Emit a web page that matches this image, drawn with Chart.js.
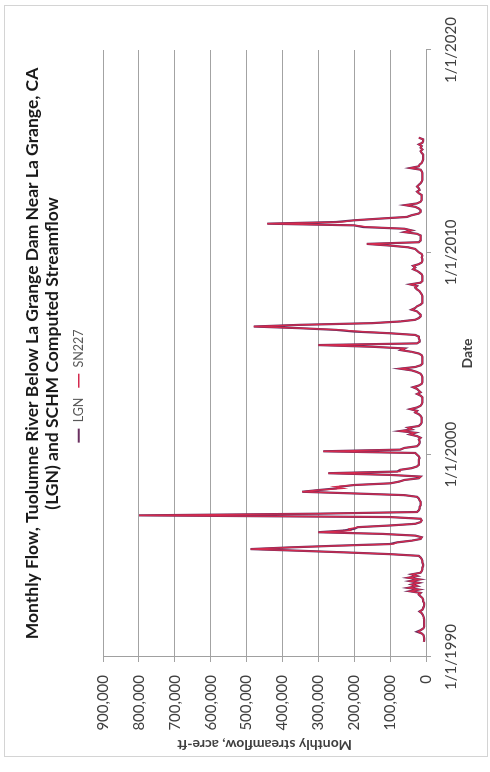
<!DOCTYPE html>
<html>
<head>
  <meta charset="utf-8">
  <title>Monthly Flow, Tuolumne River Below La Grange Dam</title>
  <script src="https://cdn.jsdelivr.net/npm/chart.js"></script>
  <style>
    body {
      margin: 0;
      background: #fff;
    }
    /* the chart is laid out landscape and then turned a quarter turn, like the scanned page */
    #page {
      position: absolute;
      left: 0;
      top: 0;
      width: 772px;
      height: 490px;
      transform-origin: 0 0;
      transform: translateY(772px) rotate(-90deg);
    }
    #frame {
      position: absolute;
      left: 15px;
      top: 4px;
      width: 752px;
      height: 484px;
      border: 1.5px solid #d4d4d4;
      box-sizing: border-box;
    }
    canvas {
      position: absolute;
      left: 0;
      top: 0;
    }
  </style>
</head>
<body>
<div id="page">
  <div id="frame"></div>
  <canvas id="flowChart" width="772" height="490"></canvas>
</div>

<script>
  const titleLines = [
    'Monthly Flow, Tuolumne River Below La Grange Dam Near La Grange, CA',
    '(LGN) and SCHM Computed Streamflow'
  ];
  const seriesNames = ['LGN', 'SN227'];

  // monthly values, water years Oct 1990 .. Sep 2015 (acre-ft)
  const lgnFlow = [
    6000, 5000, 5000, 6000, 7000, 12000, 25000, 14000, 7000, 5000, 5000, 5000,           // WY1991
    5000, 5000, 6000, 7000, 9000, 12000, 18000, 10000, 8000, 6000, 5000, 5000,           // WY1992
    8000, 8000, 10000, 15000, 20000, 15000, 45000, 20000, 50000, 25000, 40000, 20000,    // WY1993
    45000, 18000, 50000, 25000, 40000, 15000, 12000, 10000, 10000, 8000, 8000, 10000,    // WY1994
    10000, 12000, 15000, 20000, 100000, 220000, 350000, 489000, 380000, 250000, 100000, 80000, // WY1995
    40000, 15000, 12000, 30000, 120000, 300000, 230000, 200000, 190000, 100000, 30000, 15000,  // WY1996
    12000, 15000, 100000, 800000, 300000, 25000, 20000, 18000, 18000, 15000, 15000, 15000,     // WY1997
    18000, 20000, 25000, 60000, 200000, 345000, 300000, 250000, 240000, 200000, 100000, 75000, // WY1998
    60000, 20000, 15000, 100000, 272000, 80000, 72000, 40000, 25000, 20000, 20000, 20000,      // WY1999
    20000, 18000, 20000, 25000, 30000, 286000, 72000, 60000, 25000, 20000, 18000, 18000,       // WY2000
    20000, 15000, 25000, 45000, 30000, 72000, 40000, 50000, 20000, 15000, 12000, 12000,  // WY2001
    12000, 12000, 15000, 20000, 30000, 25000, 44000, 25000, 15000, 12000, 10000, 10000,  // WY2002
    10000, 10000, 15000, 25000, 15000, 20000, 25000, 36000, 20000, 12000, 10000, 10000,  // WY2003
    10000, 10000, 12000, 15000, 25000, 40000, 72000, 30000, 15000, 10000, 10000, 10000,  // WY2004
    10000, 10000, 12000, 20000, 40000, 70000, 60000, 150000, 300000, 25000, 18000, 18000,      // WY2005
    20000, 20000, 30000, 100000, 200000, 250000, 350000, 480000, 350000, 150000, 72000, 30000, // WY2006
    20000, 15000, 15000, 20000, 25000, 40000, 30000, 25000, 15000, 10000, 10000, 10000,  // WY2007
    10000, 10000, 12000, 15000, 18000, 25000, 30000, 25000, 44000, 15000, 10000, 10000,  // WY2008
    10000, 10000, 12000, 18000, 25000, 36000, 30000, 36000, 20000, 12000, 10000, 10000,  // WY2009
    12000, 10000, 12000, 20000, 25000, 30000, 50000, 100000, 165000, 20000, 15000, 15000,      // WY2010
    15000, 15000, 25000, 60000, 40000, 60000, 175000, 200000, 442000, 250000, 200000, 128000,  // WY2011
    53000, 40000, 20000, 15000, 15000, 20000, 30000, 58000, 25000, 15000, 12000, 12000,  // WY2012
    12000, 12000, 20000, 25000, 18000, 20000, 25000, 20000, 15000, 12000, 10000, 10000,  // WY2013
    10000, 10000, 10000, 12000, 15000, 44000, 20000, 18000, 12000, 10000, 8000, 8000,    // WY2014
    8000, 8000, 12000, 15000, 10000, 15000, 12000, 20000, 10000, 8000, 8000, 20000       // WY2015
  ];

  const sn227Flow = [
    6000, 5000, 5000, 6000, 7000, 12000, 22000, 14000, 7000, 5000, 5000, 5000,
    5000, 5000, 6000, 7000, 9000, 12000, 18000, 10000, 8000, 6000, 5000, 5000,
    8000, 8000, 10000, 15000, 20000, 15000, 45000, 20000, 50000, 25000, 40000, 20000,
    45000, 18000, 50000, 25000, 40000, 15000, 12000, 10000, 10000, 8000, 8000, 10000,
    10000, 12000, 15000, 20000, 100000, 220000, 350000, 489000, 380000, 240000, 90000, 80000,
    40000, 15000, 12000, 30000, 120000, 300000, 210000, 215000, 190000, 100000, 30000, 15000,
    12000, 15000, 100000, 800000, 300000, 25000, 20000, 18000, 18000, 15000, 15000, 15000,
    18000, 20000, 25000, 60000, 200000, 345000, 300000, 230000, 255000, 200000, 100000, 75000,
    60000, 20000, 15000, 100000, 272000, 72000, 72000, 40000, 25000, 20000, 20000, 20000,
    20000, 18000, 20000, 25000, 30000, 286000, 72000, 60000, 25000, 20000, 18000, 18000,
    20000, 15000, 25000, 45000, 30000, 72000, 40000, 50000, 20000, 15000, 12000, 12000,
    12000, 12000, 15000, 20000, 30000, 25000, 44000, 25000, 15000, 12000, 10000, 10000,
    10000, 10000, 15000, 25000, 15000, 20000, 25000, 36000, 20000, 12000, 10000, 10000,
    10000, 10000, 12000, 15000, 25000, 40000, 72000, 30000, 15000, 10000, 10000, 10000,
    10000, 10000, 12000, 20000, 40000, 70000, 60000, 150000, 300000, 25000, 18000, 18000,
    20000, 20000, 30000, 100000, 180000, 240000, 350000, 480000, 350000, 150000, 72000, 30000,
    20000, 15000, 15000, 20000, 25000, 40000, 30000, 25000, 15000, 10000, 10000, 10000,
    10000, 10000, 12000, 15000, 18000, 25000, 30000, 25000, 44000, 15000, 10000, 10000,
    10000, 10000, 12000, 18000, 25000, 36000, 30000, 36000, 20000, 12000, 10000, 10000,
    12000, 10000, 12000, 20000, 25000, 30000, 50000, 100000, 165000, 20000, 15000, 15000,
    15000, 15000, 25000, 60000, 40000, 60000, 160000, 200000, 442000, 235000, 200000, 128000,
    53000, 40000, 20000, 15000, 15000, 20000, 30000, 58000, 25000, 15000, 12000, 12000,
    12000, 12000, 20000, 25000, 18000, 20000, 25000, 20000, 15000, 12000, 10000, 10000,
    10000, 10000, 10000, 12000, 15000, 44000, 20000, 18000, 12000, 10000, 8000, 8000,
    8000, 8000, 12000, 15000, 10000, 15000, 12000, 20000, 10000, 8000, 8000, 20000
  ];

  // month positions as decimal years, first month Oct 1990
  const firstMonth = 1990 + 9 / 12;
  const months = [];
  for (let i = 0; i < lgnFlow.length; i++) months.push(firstMonth + i / 12);

  const dateTicks = [1990, 2000, 2010, 2020];
  const flowMax = 900000;
  const flowStep = 100000;

  const fontFamily = 'Lato, "Open Sans", sans-serif';

  function points(values) {
    return values.map((v, i) => ({ x: months[i], y: v }));
  }

  // empty axis, only used to reserve room
  function spacer(position, size) {
    return {
      type: 'linear',
      position: position,
      display: true,
      ticks: { display: false },
      grid: { display: false, drawTicks: false },
      border: { display: false },
      afterFit: s => {
        if (position === 'top' || position === 'bottom') s.height = size;
        else s.width = size;
      }
    };
  }

  new Chart(document.getElementById('flowChart').getContext('2d'), {
    type: 'line',
    data: {
      datasets: [
        {
          label: seriesNames[0],
          data: points(lgnFlow),
          borderColor: '#6a3060',
          backgroundColor: '#6a3060',
          borderWidth: 2.2,
          pointRadius: 0,
          tension: 0,
          order: 1,
          xAxisID: 'x',
          yAxisID: 'y'
        },
        {
          label: seriesNames[1],
          data: points(sn227Flow),
          borderColor: '#d42a4e',
          backgroundColor: '#d42a4e',
          borderWidth: 1.3,
          pointRadius: 0,
          tension: 0,
          order: 0,
          xAxisID: 'x',
          yAxisID: 'y'
        }
      ]
    },
    options: {
      responsive: false,
      animation: false,
      events: [],
      layout: { padding: 0 },
      plugins: {
        tooltip: { enabled: false },
        title: {
          display: true,
          text: titleLines,
          fullSize: false,
          color: '#1a1a1a',
          font: { family: fontFamily, size: 17.5, weight: 'bold', lineHeight: 1.1 },
          padding: { top: 23, bottom: 1 }
        },
        legend: {
          display: true,
          labels: {
            usePointStyle: true,
            pointStyle: 'line',
            pointStyleWidth: 14,
            padding: 10,
            color: '#595959',
            font: { family: fontFamily, size: 12.5 },
            sort: (a, b) => a.datasetIndex - b.datasetIndex
          }
        }
      },
      scales: {
        x: {
          type: 'linear',
          position: 'bottom',
          min: dateTicks[0],
          max: dateTicks[dateTicks.length - 1],
          afterBuildTicks: s => { s.ticks = dateTicks.map(v => ({ value: v })); },
          afterFit: s => { s.height = 64; },
          ticks: {
            callback: v => '1/1/' + v,
            color: '#404040',
            font: { family: fontFamily, size: 15 },
            padding: 11,
            maxRotation: 0,
            autoSkip: false
          },
          grid: { drawOnChartArea: false, tickLength: 5, color: '#a0a0a0' },
          border: { color: '#a0a0a0' },
          title: {
            display: true,
            text: 'Date',
            color: '#404040',
            font: { family: fontFamily, size: 14, weight: 'bold' },
            padding: { top: 0, bottom: 14 }
          }
        },
        y: {
          type: 'linear',
          position: 'left',
          min: 0,
          max: flowMax,
          afterFit: s => { s.width = 115; },
          ticks: {
            stepSize: flowStep,
            callback: v => v.toLocaleString('en-US'),
            color: '#404040',
            font: { family: fontFamily, size: 15 },
            padding: 13
          },
          grid: { color: '#a3a3a3', tickLength: 5 },
          border: { color: '#a0a0a0' },
          title: {
            display: true,
            text: 'Monthly streamflow, acre-ft',
            color: '#404040',
            font: { family: fontFamily, size: 14, weight: 'bold' },
            padding: { top: 19, bottom: 0 }
          }
        },
        gapTop: spacer('top', 8),
        gapRight: spacer('right', 50)
      }
    }
  });
</script>
</body>
</html>
